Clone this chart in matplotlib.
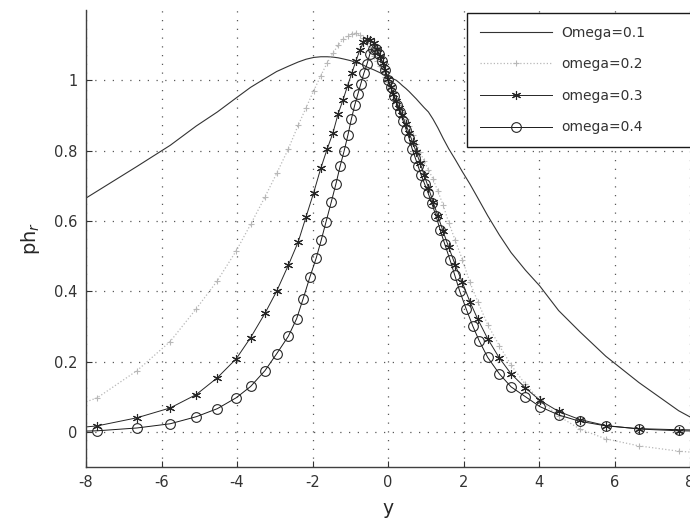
import numpy as np
import matplotlib
matplotlib.use("Agg")
from matplotlib import pyplot as plt

# sample points along y (shared by omega=0.1, 0.2, 0.3)
y_a = [-8.9, -7.7, -6.65, -5.77, -5.08, -4.52, -4.02, -3.64, -3.26, -2.95,
       -2.64, -2.38, -2.17, -1.97, -1.78, -1.61, -1.46, -1.32, -1.19, -1.07,
       -0.96, -0.85, -0.75, -0.65, -0.56, -0.47, -0.38, -0.30, -0.22, -0.14,
       -0.07, 0.0, 0.07, 0.14, 0.22, 0.30, 0.38, 0.47, 0.56, 0.65,
       0.75, 0.85, 0.96, 1.07, 1.19, 1.32, 1.46, 1.61, 1.78, 1.97,
       2.17, 2.38, 2.64, 2.95, 3.26, 3.64, 4.02, 4.52, 5.08, 5.77,
       6.65, 7.7, 8.9]

ph_01 = [0.605, 0.685, 0.755, 0.815, 0.87, 0.91, 0.95, 0.98, 1.005, 1.025,
         1.04, 1.052, 1.06, 1.065, 1.067, 1.067, 1.066, 1.064, 1.061, 1.058,
         1.055, 1.05, 1.048, 1.043, 1.038, 1.034, 1.03, 1.026, 1.022, 1.018,
         1.015, 1.012, 1.008, 1.004, 1.0, 0.993, 0.985, 0.977, 0.968, 0.958,
         0.947, 0.935, 0.922, 0.91, 0.89, 0.865, 0.835, 0.805, 0.775, 0.74,
         0.705, 0.665, 0.615, 0.56, 0.51, 0.46, 0.415, 0.345, 0.285, 0.215,
         0.14, 0.06, -0.01]

ph_02 = [0.05, 0.097, 0.174, 0.257, 0.35, 0.43, 0.515, 0.59, 0.668, 0.735,
         0.805, 0.872, 0.922, 0.97, 1.013, 1.05, 1.077, 1.1, 1.117, 1.127,
         1.133, 1.134, 1.13, 1.12, 1.105, 1.09, 1.07, 1.055, 1.04, 1.025,
         1.01, 0.995, 0.98, 0.965, 0.95, 0.93, 0.91, 0.89, 0.87, 0.845,
         0.82, 0.795, 0.77, 0.745, 0.72, 0.685, 0.645, 0.595, 0.545, 0.49,
         0.425, 0.37, 0.305, 0.245, 0.19, 0.135, 0.09, 0.045, 0.008, -0.02,
         -0.04, -0.055, -0.065]

ph_03 = [0.005, 0.017, 0.04, 0.068, 0.106, 0.154, 0.208, 0.268, 0.337, 0.40,
         0.474, 0.54, 0.612, 0.68, 0.75, 0.805, 0.85, 0.905, 0.945, 0.985,
         1.02, 1.055, 1.085, 1.108, 1.118, 1.115, 1.105, 1.09, 1.07, 1.05,
         1.03, 1.005, 0.98, 0.96, 0.94, 0.92, 0.90, 0.875, 0.85, 0.825,
         0.795, 0.765, 0.73, 0.695, 0.655, 0.615, 0.57, 0.525, 0.475, 0.425,
         0.37, 0.32, 0.265, 0.21, 0.165, 0.125, 0.09, 0.058, 0.035, 0.018,
         0.008, 0.003, 0.001]

# omega=0.4 is sampled more finely near the peak
y_b = [-8.9, -7.7, -6.65, -5.77, -5.08, -4.52, -4.02, -3.64, -3.26, -2.95,
       -2.64, -2.42, -2.25, -2.07, -1.9, -1.77, -1.64, -1.5, -1.38, -1.27,
       -1.16, -1.06, -0.97, -0.88, -0.8, -0.72, -0.64, -0.56, -0.48, -0.4,
       -0.32, -0.24, -0.16, -0.08, 0.0, 0.08, 0.16, 0.24, 0.32, 0.4,
       0.48, 0.56, 0.64, 0.72, 0.8, 0.88, 0.97, 1.06, 1.16, 1.27,
       1.38, 1.5, 1.64, 1.77, 1.9, 2.07, 2.25, 2.42, 2.64, 2.95,
       3.26, 3.64, 4.02, 4.52, 5.08, 5.77, 6.65, 7.7, 8.9]

ph_04 = [0.0, 0.003, 0.011, 0.023, 0.043, 0.066, 0.097, 0.129, 0.174, 0.222,
         0.272, 0.322, 0.378, 0.44, 0.495, 0.545, 0.598, 0.655, 0.705, 0.755,
         0.80, 0.845, 0.89, 0.93, 0.96, 0.99, 1.02, 1.045, 1.075, 1.09,
         1.088, 1.075, 1.055, 1.03, 1.0, 0.98, 0.955, 0.93, 0.91, 0.885,
         0.86, 0.835, 0.805, 0.78, 0.755, 0.73, 0.705, 0.68, 0.65, 0.615,
         0.575, 0.535, 0.49, 0.445, 0.40, 0.35, 0.30, 0.258, 0.212, 0.165,
         0.128, 0.1, 0.072, 0.048, 0.03, 0.017, 0.009, 0.006, 0.004]

labels = ['Omega=0.1', 'omega=0.2', 'omega=0.3', 'omega=0.4']
x_ticks = [-8, -6, -4, -2, 0, 2, 4, 6, 8]
y_ticks = [0, 0.2, 0.4, 0.6, 0.8, 1]

plt.rcParams['font.family'] = ['DejaVu Sans']

fig = plt.figure(figsize=(6.9, 5.19), dpi=100)
ax = fig.add_axes([86/690, 52/519, 604/690, 457/519])

ax.plot(y_a, ph_01, '-', color='0.2', lw=0.8, label=labels[0])
ax.plot(y_a, ph_02, ':', color='0.72', lw=0.9, marker='+', ms=4,
        mew=0.8, label=labels[1])
ax.plot(y_a, ph_03, '-', color='0.15', lw=0.7, marker=(6, 2, 0), ms=6.5,
        mew=0.8, label=labels[2])
ax.plot(y_b, ph_04, '-', color='0.1', lw=0.7, marker='o', ms=7,
        mfc='none', mec='0.15', mew=0.8, label=labels[3])

ax.set_xlim(-8, 8)
ax.set_ylim(-0.1, 1.2)
ax.set_xticks(x_ticks)
ax.set_yticks(y_ticks)
ax.set_xticklabels([str(t) for t in x_ticks])
ax.set_yticklabels(['0', '0.2', '0.4', '0.6', '0.8', '1'])
ax.tick_params(direction='in', length=4, width=0.8, labelsize=10.5,
               colors='0.2', pad=6)

ax.grid(True, color='0.35', linestyle=(0, (1, 6)), lw=0.9)
for side in ['top', 'right']:
    ax.spines[side].set_visible(False)
for side in ['left', 'bottom']:
    ax.spines[side].set_color('0.25')
    ax.spines[side].set_linewidth(1.0)

ax.set_xlabel('y', fontsize=13.5, color='0.15', labelpad=6)
ax.set_ylabel('ph$_r$', fontsize=14, color='0.15', labelpad=9)

leg = ax.legend(loc='upper left', bbox_to_anchor=(467/690, 1 - 13/519, 240/690, 0),
                bbox_transform=fig.transFigure, mode='expand', borderaxespad=0,
                fontsize=10, numpoints=1, handlelength=5.2, handletextpad=0.65,
                labelspacing=1.27, borderpad=0.9, fancybox=False, framealpha=1)
leg.get_frame().set_edgecolor('0.1')
leg.get_frame().set_linewidth(1.0)
for txt in leg.get_texts():
    txt.set_color('0.2')

fig.savefig('out.png', dpi=100)
